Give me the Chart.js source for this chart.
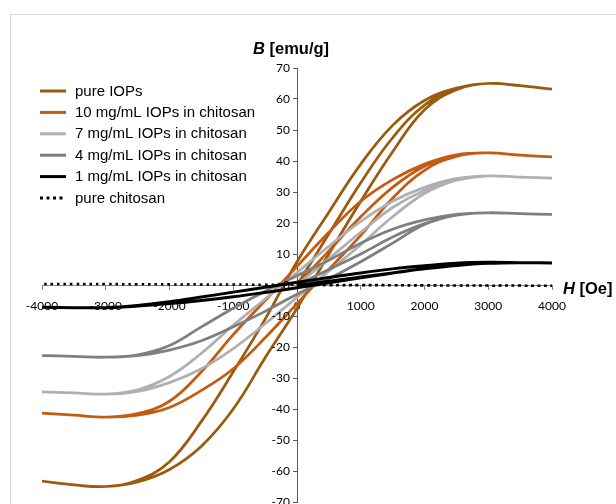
<!DOCTYPE html>
<html lang="en">
<head>
<meta charset="UTF-8">
<title>Magnetization loops</title>
<script src="https://cdn.jsdelivr.net/npm/chart.js@4"></script>
<style>
  html, body { margin: 0; padding: 0; background: #fff; overflow: hidden; }
  #wrap { position: relative; width: 616px; height: 504px; overflow: hidden; }
  #frame { position: absolute; left: 10px; top: 14px; width: 700px; height: 600px;
           border: 1.5px solid #d9d9d9; box-sizing: border-box; }
  canvas { position: absolute; left: 0; top: 0; }
</style>
</head>
<body>
<div id="wrap">
  <div id="frame"></div>
  <canvas id="chart" width="616" height="504"></canvas>
</div>
<script>
// field values (Oe) for each part of the measurement
const fieldVirgin = [0, 500, 1000, 1500, 2000, 2500, 3000, 3500, 4000];
const fieldDown = [4000, 3500, 3000, 2500, 2000, 1500, 1000, 500, 0, -500, -1000, -1500, -2000, -2500, -3000, -3500, -4000];
const fieldUp = [-4000, -3500, -3000, -2500, -2000, -1500, -1000, -500, 0, 500, 1000, 1500, 2000, 2500, 3000, 3500, 4000];

const xTicks = [-4000, -3000, -2000, -1000, 0, 1000, 2000, 3000, 4000];
const yTicks = [-70, -60, -50, -40, -30, -20, -10, 0, 10, 20, 30, 40, 50, 60, 70];

const seriesNames = ['pure IOPs', '10 mg/mL IOPs in chitosan', '7 mg/mL IOPs in chitosan',
  '4 mg/mL IOPs in chitosan', '1 mg/mL IOPs in chitosan', 'pure chitosan'];

// B (emu/g)
const pureVirgin = [0, 16.5, 33, 47.5, 58, 63.3, 65, 64.3, 63.2];
const pureDown = [63.2, 64.3, 65, 63.5, 59.5, 51.5, 39, 23.5, 7.5, -11, -28, -44, -57, -63, -65, -64.5, -63.3];
const pureUp = [-63.3, -64.5, -65, -63.5, -59.5, -52, -40, -23.5, -7.5, 10, 27, 43, 56.5, 63, 65, 64.3, 63.2];

const c10Virgin = [0, 11, 22, 31.5, 38.3, 41.8, 42.6, 41.9, 41.3];
const c10Down = [41.3, 41.9, 42.6, 42, 39, 34, 27, 17, 6, -5, -16, -28, -37.5, -41.5, -42.6, -42, -41.3];
const c10Up = [-41.3, -42, -42.6, -42, -39.5, -34, -27, -17, -6, 5, 16, 28, 37, 41.5, 42.6, 41.9, 41.3];

const c7Virgin = [0, 8.5, 17, 25, 30.5, 33.8, 35.2, 34.8, 34.5];
const c7Down = [34.5, 34.8, 35.2, 34.3, 31.5, 27, 20.5, 12.5, 4, -4.5, -13, -22, -29.5, -33.8, -35.2, -34.8, -34.5];
const c7Up = [-34.5, -34.8, -35.2, -34.3, -31.5, -27, -20.5, -12.5, -4, 4.5, 13, 22, 29.5, 33.8, 35.2, 34.8, 34.5];

const c4Virgin = [0, 5, 10, 15.5, 19.8, 22.5, 23.3, 23, 22.8];
const c4Down = [22.8, 23, 23.3, 22.8, 21, 18, 13.5, 8, 3, -2, -7.5, -13.5, -19.5, -22.5, -23.3, -23, -22.8];
const c4Up = [-22.8, -23, -23.3, -22.8, -21, -18, -13.5, -8.5, -3, 2, 7.5, 13.5, 19.5, 22.5, 23.3, 23, 22.8];

const c1Virgin = [0, 1.2, 2.6, 3.9, 5.2, 6.3, 7, 7.2, 7.1];
const c1Down = [7.1, 7.2, 7.3, 7, 6.2, 5.2, 3.9, 2.4, 0.9, -0.7, -2.3, -3.9, -5.4, -6.6, -7.3, -7.3, -7.2];
const c1Up = [-7.2, -7.3, -7.3, -6.8, -6, -5, -3.8, -2.4, -0.9, 0.7, 2.3, 3.9, 5.3, 6.5, 7.2, 7.2, 7.1];

const chitVirgin = [0, -0.05, -0.1, -0.1, -0.15, -0.15, -0.2, -0.2, -0.25];
const chitDown = [-0.25, -0.2, -0.2, -0.15, -0.1, -0.05, 0, 0, 0.05, 0.1, 0.15, 0.2, 0.2, 0.25, 0.3, 0.3, 0.35];
const chitUp = [0.35, 0.3, 0.3, 0.25, 0.2, 0.2, 0.15, 0.1, 0.05, 0, -0.05, -0.1, -0.1, -0.15, -0.2, -0.2, -0.25];

const colors = ['#9a5b0e', '#c55a11', '#b0b0b0', '#7f7f7f', '#000000', '#000000'];

function loop(virgin, down, up) {
  const pts = [];
  fieldVirgin.forEach((h, i) => pts.push({ x: h, y: virgin[i] }));
  fieldDown.forEach((h, i) => pts.push({ x: h, y: down[i] }));
  fieldUp.forEach((h, i) => pts.push({ x: h, y: up[i] }));
  return pts;
}

const loops = [
  loop(pureVirgin, pureDown, pureUp),
  loop(c10Virgin, c10Down, c10Up),
  loop(c7Virgin, c7Down, c7Up),
  loop(c4Virgin, c4Down, c4Up),
  loop(c1Virgin, c1Down, c1Up),
  loop(chitVirgin, chitDown, chitUp)
];

const datasets = loops.map((pts, i) => ({
  label: seriesNames[i],
  data: pts,
  showLine: true,
  borderColor: colors[i],
  borderWidth: i === 4 ? 3 : (i === 5 ? 2.5 : 2.75),
  borderDash: i === 5 ? [2.5, 4] : [],
  pointRadius: 0,
  tension: 0.4,
  order: 6 - i
}));

const sans = '"Liberation Sans", Arial, sans-serif';
const tickFamily = 'Lato, "Liberation Sans", sans-serif';

// legend in the upper left corner
const legendBox = {
  id: 'legendBox',
  afterDraw(chart) {
    const ctx = chart.ctx;
    ctx.save();
    ctx.font = '15px ' + sans;
    ctx.textBaseline = 'middle';
    ctx.fillStyle = '#000';
    chart.data.datasets.forEach((ds, i) => {
      const y = 91 + i * 21.4;
      ctx.beginPath();
      ctx.strokeStyle = ds.borderColor;
      ctx.lineWidth = 3;
      ctx.setLineDash(ds.borderDash.length ? [3, 3.5] : []);
      ctx.moveTo(40, y);
      ctx.lineTo(66, y);
      ctx.stroke();
      ctx.setLineDash([]);
      ctx.fillText(ds.label, 75, y + 0.5);
    });
    ctx.restore();
  }
};

function drawMixed(ctx, x, y, parts) {
  parts.forEach(([font, txt]) => {
    ctx.font = font;
    ctx.fillText(txt, x, y);
    x += ctx.measureText(txt).width;
  });
}

// axis titles and the y tick labels (left of the centred axis)
const axisText = {
  id: 'axisText',
  afterDraw(chart) {
    const ctx = chart.ctx;
    const xs = chart.scales.x, ys = chart.scales.y;
    ctx.save();
    ctx.fillStyle = '#000';
    ctx.textBaseline = 'alphabetic';
    drawMixed(ctx, 253, 54, [['italic bold 16.5px ' + sans, 'B'], ['bold 16.5px ' + sans, ' [emu/g]']]);
    drawMixed(ctx, 563, 294, [['italic bold 16.5px ' + sans, 'H'], ['bold 16.5px ' + sans, ' [Oe]']]);
    ctx.font = '12px ' + tickFamily;
    ctx.textAlign = 'right';
    ctx.textBaseline = 'middle';
    const x0 = xs.getPixelForValue(0) - 7;
    yTicks.forEach(v => ctx.fillText(String(v), x0, ys.getPixelForValue(v)));
    ctx.restore();
  }
};

new Chart(document.getElementById('chart'), {
  type: 'scatter',
  data: { datasets },
  options: {
    responsive: false,
    animation: false,
    layout: { padding: { left: 42, right: 64, top: 68, bottom: 2 } },
    plugins: { legend: { display: false }, tooltip: { enabled: false } },
    scales: {
      x: {
        type: 'linear',
        min: xTicks[0],
        max: xTicks[xTicks.length - 1],
        position: { y: 0 },
        afterBuildTicks: axis => { axis.ticks = xTicks.map(v => ({ value: v })); },
        ticks: { font: { family: tickFamily, size: 12 }, color: '#000', padding: 10,
                 maxRotation: 0, autoSkip: false, callback: v => String(v) },
        grid: { drawOnChartArea: false, tickLength: 4, color: '#868686' },
        border: { color: '#868686', width: 1 }
      },
      y: {
        type: 'linear',
        min: yTicks[0],
        max: yTicks[yTicks.length - 1],
        position: { x: 0 },
        afterBuildTicks: axis => { axis.ticks = yTicks.map(v => ({ value: v })); },
        ticks: { display: false },
        grid: { drawOnChartArea: false, tickLength: 4, color: '#595959' },
        border: { color: '#595959', width: 1 }
      }
    }
  },
  plugins: [legendBox, axisText]
});
</script>
</body>
</html>
